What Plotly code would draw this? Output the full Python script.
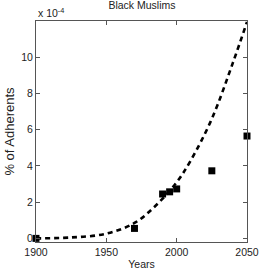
import plotly.graph_objects as go

# observed data (x 1e-4 %)
obs_years = [1900, 1970, 1990, 1995, 2000, 2025, 2050]
obs_vals = [0.0, 0.55, 2.45, 2.57, 2.73, 3.73, 5.65]

# fitted curve
fit_years = [1900, 1925, 1950, 1970, 1985, 2000, 2010, 2025, 2040, 2050]
fit_vals = [0.0, 0.05, 0.26, 0.85, 1.8, 3.1, 4.3, 6.6, 9.7, 11.95]

x_ticks = [1900, 1950, 2000, 2050]
y_ticks = [0, 2, 4, 6, 8, 10]

font = "Liberation Sans Narrow, Arial Narrow, Liberation Sans, Arial, sans-serif"

fig = go.Figure()
fig.add_trace(go.Scatter(x=fit_years, y=fit_vals, mode="lines",
                         line=dict(color="black", width=2.6, dash="5px,4px", shape="spline"),
                         hoverinfo="skip"))
fig.add_trace(go.Scatter(x=obs_years, y=obs_vals, mode="markers",
                         marker=dict(symbol="square", size=7, color="black"),
                         cliponaxis=False))

axis_common = dict(showgrid=False, zeroline=False, showline=True, linecolor="#555",
                   linewidth=1, mirror="allticks", ticks="inside", ticklen=4,
                   tickcolor="#555", automargin=False,
                   tickfont=dict(family=font, size=10.5, color="#222"))
fig.update_layout(
    width=273, height=273, showlegend=False,
    plot_bgcolor="white", paper_bgcolor="white",
    margin=dict(l=36, r=26, t=21, b=31),
    font=dict(family=font, size=10.5, color="#222"),
    title=dict(text="Black Muslims", x=0.52, xanchor="center", y=0.993, yanchor="top",
               font=dict(family=font, size=10.5, color="#222")),
    xaxis=dict(range=[1900, 2050], tickvals=x_ticks, ticktext=[str(v) for v in x_ticks],
               title=dict(text="Years", standoff=4, font=dict(family=font, size=10.5)),
               **axis_common),
    yaxis=dict(range=[-0.2, 12], tickvals=y_ticks, ticktext=[str(v) for v in y_ticks],
               title=dict(text="% of Adherents", standoff=3, font=dict(family=font, size=13)),
               **axis_common),
    annotations=[dict(text="x 10<sup>-4</sup>", xref="paper", yref="paper", x=0, y=1.0,
                      xanchor="left", yanchor="bottom", showarrow=False, yshift=0,
                      font=dict(family=font, size=10.5, color="#222"))],
)
fig.write_html("out.html", config={"displayModeBar": False},
               post_script="document.body.style.margin='0';")
